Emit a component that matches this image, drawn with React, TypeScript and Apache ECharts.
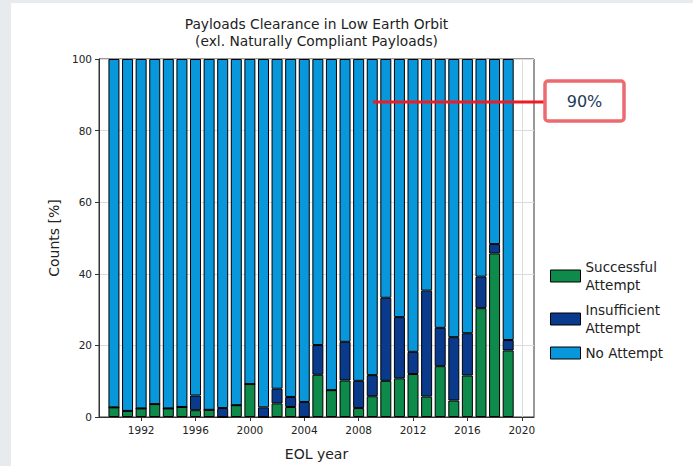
import React, { useEffect, useRef } from "react";
import * as echarts from "echarts";

const years = [1990, 1991, 1992, 1993, 1994, 1995, 1996, 1997, 1998, 1999, 2000, 2001, 2002, 2003, 2004, 2005, 2006, 2007, 2008, 2009, 2010, 2011, 2012, 2013, 2014, 2015, 2016, 2017, 2018, 2019];
const successful = [2.7, 1.7, 2.4, 3.6, 2.4, 2.8, 1.9, 2.0, 0, 3.3, 9.2, 0, 3.8, 2.8, 0, 11.8, 7.5, 10.2, 2.5, 5.8, 10.1, 10.8, 12.0, 5.7, 14.2, 4.6, 11.6, 30.4, 45.7, 18.6];
const insufficient = [0, 0, 0, 0, 0, 0, 4.1, 0, 2.5, 0, 0, 2.7, 4.1, 2.8, 4.2, 8.3, 0, 10.8, 7.6, 5.9, 23.2, 17.1, 6.2, 29.6, 10.7, 17.7, 11.8, 8.8, 2.6, 2.9];
const noAttempt = years.map((_, i) => +(100 - successful[i] - insufficient[i]).toFixed(1));
const xTicks = [1992, 1996, 2000, 2004, 2008, 2012, 2016, 2020];
const seriesNames = ["Successful Attempt", "Insufficient Attempt", "No Attempt"];
const legendLabels: Record<string, string> = {
  "Successful Attempt": "Successful\nAttempt",
  "Insufficient Attempt": "Insufficient\nAttempt",
  "No Attempt": "No Attempt",
};
const colors = ["#0e8a4a", "#0a3a8c", "#0897da"];
const targetLabel = "90%";

const FONT = "DejaVu Sans";

export default function App() {
  const ref = useRef<HTMLDivElement>(null);
  useEffect(() => {
    document.body.style.margin = "0";
    const chart = echarts.init(ref.current!, null, { renderer: "svg" });
    const mk = (arr: number[]) => years.map((y, i) => [arr[i], y]);
    const datas = [successful, insufficient, noAttempt];
    chart.setOption({
      animation: false,
      backgroundColor: "#ffffff",
      textStyle: { fontFamily: FONT },
      grid: {
        left: 99,
        right: 159,
        top: 59,
        bottom: 49,
        show: true,
        borderColor: "#333",
        borderWidth: 1,
        backgroundColor: "transparent",
      },
      legend: {
        orient: "vertical",
        left: 545,
        top: 253,
        itemWidth: 30,
        itemHeight: 12,
        itemGap: 7,
        icon: "rect",
        data: seriesNames,
        formatter: (n: string) => legendLabels[n],
        itemStyle: { borderColor: "#000", borderWidth: 1 },
        textStyle: { fontFamily: FONT, fontSize: 13.5, color: "#222", lineHeight: 18 },
        selectedMode: false,
      },
      xAxis: {
        type: "value",
        min: 1988.9,
        max: 2020.9,
        name: "EOL year",
        nameLocation: "middle",
        nameGap: 30,
        nameTextStyle: { fontFamily: FONT, fontSize: 14, color: "#222" },
        axisLine: { show: true, onZero: false, lineStyle: { color: "#333" } },
        axisTick: { show: true, customValues: xTicks, length: 4, lineStyle: { color: "#333" } },
        axisLabel: {
          customValues: xTicks,
          fontFamily: FONT,
          fontSize: 10.5,
          color: "#222",
          margin: 7,
          formatter: (v: number) => String(v),
        },
        splitLine: { show: true, lineStyle: { color: "#dcdcdc" } },
      },
      yAxis: {
        type: "value",
        min: 0,
        max: 100,
        interval: 20,
        name: "Counts [%]",
        nameLocation: "middle",
        nameGap: 38,
        nameTextStyle: { fontFamily: FONT, fontSize: 14, color: "#222" },
        axisLine: { show: true, lineStyle: { color: "#333" } },
        axisTick: { show: true, length: 4, lineStyle: { color: "#333" } },
        axisLabel: { fontFamily: FONT, fontSize: 10.5, color: "#222", margin: 7 },
        splitLine: { show: true, lineStyle: { color: "#dcdcdc" } },
      },
      series: seriesNames.map((name, k) => ({
        name,
        type: "bar",
        stack: "total",
        barWidth: 11,
        data: mk(datas[k]),
        encode: { x: 1, y: 0 },
        itemStyle: { color: colors[k], borderColor: "#000", borderWidth: 1 },
      })),
      graphic: [
        { type: "rect", shape: { x: 0, y: 0, width: 11, height: 466 }, style: { fill: "#e8ebee" }, silent: true },
        { type: "rect", shape: { x: 0, y: 0, width: 693, height: 3 }, style: { fill: "#e8ebee" }, silent: true },
        {
          type: "text",
          x: 316.5,
          y: 24,
          style: { text: "Payloads Clearance in Low Earth Orbit", fontFamily: FONT, fontSize: 13.8, fill: "#222", textAlign: "center", textVerticalAlign: "middle" },
        },
        {
          type: "text",
          x: 316.5,
          y: 41,
          style: { text: "(exl. Naturally Compliant Payloads)", fontFamily: FONT, fontSize: 13.8, fill: "#222", textAlign: "center", textVerticalAlign: "middle" },
        },
        {
          type: "line",
          shape: { x1: 373, y1: 102, x2: 546, y2: 102 },
          style: { stroke: "#ee1c25", lineWidth: 3 },
          z: 100,
        },
        {
          type: "rect",
          shape: { x: 545, y: 81, width: 79, height: 40, r: 3 },
          style: { fill: "#ffffff", stroke: "#ec6b70", lineWidth: 3.5 },
          z: 101,
        },
        {
          type: "text",
          x: 584.5,
          y: 101,
          style: { text: targetLabel, fontFamily: FONT, fontSize: 16, fill: "#1e3a56", textAlign: "center", textVerticalAlign: "middle" },
          z: 102,
        },
      ],
    });
    return () => chart.dispose();
  }, []);
  return <div ref={ref} style={{ width: 693, height: 466 }} />;
}
